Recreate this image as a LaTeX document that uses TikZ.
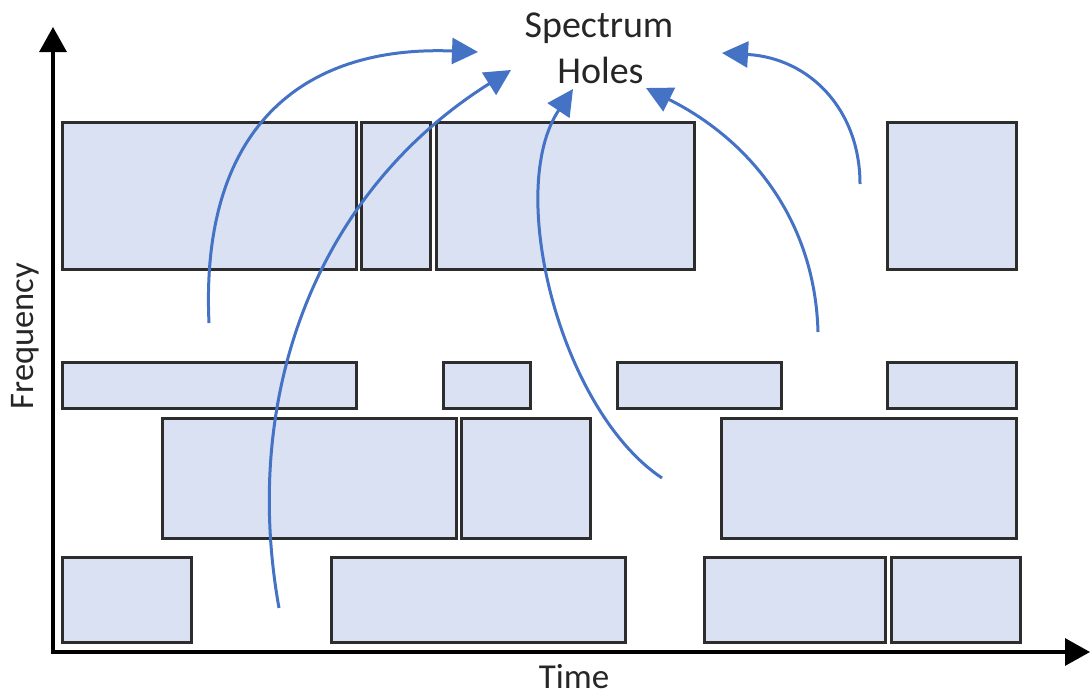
\documentclass[tikz,border=0pt]{standalone}
\usepackage{fontspec}
\setmainfont{Carlito}
\usetikzlibrary{arrows.meta}
\definecolor{fillb}{RGB}{218,225,242}
\definecolor{edgeg}{RGB}{45,45,45}
\definecolor{arrb}{RGB}{68,114,196}
\definecolor{txt}{RGB}{38,38,38}
\begin{document}
\begin{tikzpicture}[x=1pt,y=-1pt,
  blk/.style={draw=edgeg, fill=fillb, line width=3pt, inner sep=0pt, rectangle},
  lbl/.style={text=txt, inner sep=0pt},
  axis/.style={line width=3.2pt, black, {Triangle[length=25pt,width=27pt]}-{Triangle[length=25pt,width=27pt]}},
  hole/.style={line width=3pt, arrb, -{Triangle[length=26pt,width=26pt]}}]
\useasboundingbox (0,0) rectangle (1091,696);
% axes
\coordinate (ytip) at (53,27);
\coordinate (o) at (53,652);
\coordinate (xtip) at (1090,652);
\draw[axis] (ytip) -- (o) -- (xtip);
% row 1
\node[blk, minimum width=294pt, minimum height=147pt] (a1) at (209.5,196) {};
\node[blk, minimum width=69pt,  minimum height=147pt] (a2) at (396,196) {};
\node[blk, minimum width=258pt, minimum height=147pt] (a3) at (565.5,196) {};
\node[blk, minimum width=129pt, minimum height=147pt] (a4) at (952,196) {};
% row 2
\node[blk, minimum width=294pt, minimum height=46pt] (b1) at (209.5,385) {};
\node[blk, minimum width=87pt,  minimum height=46pt] (b2) at (487,385) {};
\node[blk, minimum width=164pt, minimum height=46pt] (b3) at (699.5,385) {};
\node[blk, minimum width=129pt, minimum height=46pt] (b4) at (952,385) {};
% row 3
\node[blk, minimum width=294pt, minimum height=120pt] (c1) at (309.5,478.5) {};
\node[blk, minimum width=129pt, minimum height=120pt] (c2) at (526,478.5) {};
\node[blk, minimum width=295pt, minimum height=120pt] (c3) at (869,478.5) {};
% row 4
\node[blk, minimum width=129pt, minimum height=85pt] (d1) at (127,600) {};
\node[blk, minimum width=294pt, minimum height=85pt] (d2) at (478.5,600) {};
\node[blk, minimum width=181pt, minimum height=85pt] (d3) at (795,600) {};
\node[blk, minimum width=129pt, minimum height=85pt] (d4) at (956,600) {};
% labels
\node[lbl, anchor=base, font=\fontsize{38}{44}\selectfont] (sp) at (599,37) {Spectrum};
\node[lbl, anchor=base, font=\fontsize{38}{44}\selectfont] (ho) at (600.5,83) {Holes};
\node[lbl, anchor=base, font=\fontsize{35}{40}\selectfont] (time) at (574,688) {Time};
\node[lbl, anchor=base, rotate=90, font=\fontsize{34.5}{40}\selectfont] (freq) at (33,336) {Frequency};
% arrows
\coordinate (s1) at (209,323);
\coordinate (e1) at (478,52);
\coordinate (s2) at (279,608);
\coordinate (e2) at (511,70);
\coordinate (s3) at (662,478);
\coordinate (e3) at (573,89);
\coordinate (s4) at (818,332);
\coordinate (e4) at (646,88);
\coordinate (s5) at (860,184);
\coordinate (e5) at (722,53);
\draw[hole] (s1) .. controls (200,130) and (300,45) .. (e1);
\draw[hole] (s2) .. controls (240,390) and (320,190) .. (e2);
\draw[hole] (s3) .. controls (560,410) and (505,190) .. (e3);
\draw[hole] (s4) .. controls (815,220) and (750,140) .. (e4);
\draw[hole] (s5) .. controls (860,110) and (810,58) .. (e5);
\end{tikzpicture}
\end{document}
